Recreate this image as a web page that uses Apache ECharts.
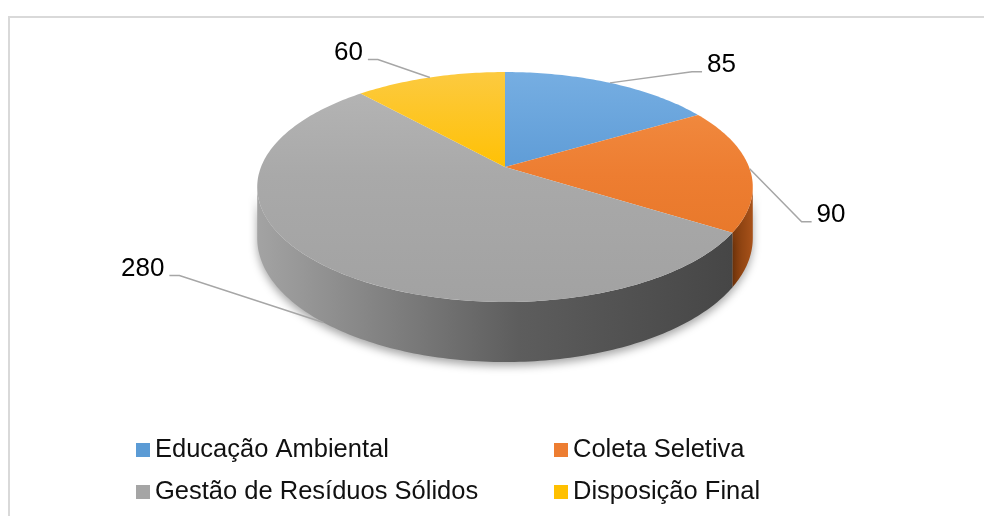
<!DOCTYPE html>
<html><head><meta charset="utf-8">
<script src="https://cdn.jsdelivr.net/npm/echarts@6/dist/echarts.min.js"></script>
<style>html,body{margin:0;padding:0;background:#fff}#c{width:984px;height:516px}</style>
</head><body><div id="c"></div>
<script>
// ---- data ----
const categories = ['Educação Ambiental', 'Coleta Seletiva', 'Gestão de Resíduos Sólidos', 'Disposição Final'];
const values = [85, 90, 280, 60];

// ---- styles / layout ----
const FONT = '"Liberation Sans", Arial, sans-serif';
const colors = ['#5b9bd5', '#ed7d31', '#a5a5a5', '#ffc000'];
const topStops = [
  ['#76aee2', '#5d9bd6', '#4a8bcc'],
  ['#f39046', '#ed7d31', '#e37424'],
  ['#b6b6b6', '#a9a9a9', '#a2a2a2'],
  ['#fcca40', '#ffc000', '#e9b500']
];
const wallStops = [
  ['#3f73a8', '#2f5f90'],
  ['#7e3a0c', '#a8521a'],
  ['#a4a4a4', '#454545'],
  ['#b38700', '#8c6a00']
];
const labelElbow = [[82, -11], [52, 53], [-144, -47], [-52, -18]];
const G = { cx: 505, cy: 167, b: 244, a: 111.5, k: 0.174, h: 49.6 };

function proj(theta, depth) {
  const t = theta * Math.PI / 180;
  const u = Math.sin(t), v = -Math.cos(t);
  const s = 1 / (1 - G.k * v);
  return [G.cx + G.b * u * s, G.cy + G.a * v * s + depth * G.h * s];
}
function arcPts(t1, t2, depth) {
  const pts = [];
  const n = Math.max(2, Math.ceil(Math.abs(t2 - t1)));
  for (let j = 0; j <= n; j++) pts.push(proj(t1 + (t2 - t1) * j / n, depth));
  return pts;
}
const total = values.reduce((p, q) => p + q, 0);
const starts = [], ends = [];
(function () { let acc = 0; values.forEach(v => { starts.push(acc / total * 360); acc += v; ends.push(acc / total * 360); }); })();
const visA = Math.acos(-G.k) * 180 / Math.PI;
const visB = 360 - visA;
const topY0 = G.cy - G.a / (1 + G.k), topY1 = G.cy + G.a / (1 - G.k);
const leftX = proj(visB, 0)[0], rightX = proj(visA, 0)[0];

function makeRender(i) {
  return function (params, api) {
    const val = api.value(0);
    const t1 = starts[i], t2 = ends[i];
    const children = [];
    const w1 = Math.max(t1, visA), w2 = Math.min(t2, visB);
    if (w2 > w1) {
      const pts = arcPts(w1, w2, 0).concat(arcPts(w2, w1, 1));
      const xa = Math.min(proj(w1, 0)[0], proj(w2, 0)[0]);
      const xb = Math.max(proj(w1, 0)[0], proj(w2, 0)[0]);
      children.push({
        type: 'polygon', z2: 1,
        shape: { points: pts },
        style: {
          fill: { type: 'linear', x: i === 2 ? leftX : xa, y: 0, x2: i === 2 ? rightX - 20 : xb, y2: 0, global: true,
            colorStops: i === 2
              ? [{ offset: 0, color: '#a3a3a3' }, { offset: 0.3, color: '#7d7d7d' }, { offset: 0.55, color: '#5d5d5d' }, { offset: 1, color: '#464646' }]
              : [{ offset: 0, color: wallStops[i][0] }, { offset: 1, color: wallStops[i][1] }] },
          shadowBlur: 8, shadowOffsetY: 4, shadowColor: 'rgba(0,0,0,0.35)'
        }
      });
    }
    const topPts = [[G.cx, G.cy]].concat(arcPts(t1, t2, 0));
    children.push({
      type: 'polygon', z2: 2,
      shape: { points: topPts },
      style: {
        fill: { type: 'linear', x: 0, y: topY0, x2: 0, y2: topY1, global: true,
          colorStops: [{ offset: 0, color: topStops[i][0] }, { offset: 0.45, color: topStops[i][1] }, { offset: 1, color: topStops[i][2] }] }
      }
    });
    // data label with leader line
    const m = (t1 + t2) / 2;
    const A = proj(m, (m >= visA && m <= visB) ? 1 : 0);
    const E = [A[0] + labelElbow[i][0], A[1] + labelElbow[i][1]];
    const side = E[0] > G.cx ? 1 : -1;
    const F = [E[0] + side * 10, E[1]];
    children.push({
      type: 'polyline', z2: 3,
      shape: { points: [A, E, F] },
      style: { stroke: '#a6a6a6', lineWidth: 1.5, fill: null }
    });
    children.push({
      type: 'text', z2: 4, x: F[0] + side * 5, y: F[1] - 7,
      style: { text: String(val), fill: '#000', fontSize: 26, fontFamily: FONT,
        align: side > 0 ? 'left' : 'right', verticalAlign: 'middle' }
    });
    return { type: 'group', children };
  };
}

const series = categories.map((name, i) => ({
  type: 'custom', name, coordinateSystem: 'none', silent: true,
  itemStyle: { color: colors[i] },
  data: [[values[i]]],
  renderItem: makeRender(i)
}));

const legendBase = {
  orient: 'vertical', top: 430, itemWidth: 14, itemHeight: 14, itemGap: 12, icon: 'rect',
  selectedMode: false,
  textStyle: { fontSize: 25.5, lineHeight: 30, color: '#111', fontFamily: FONT }
};

const chart = echarts.init(document.getElementById('c'), null, { renderer: 'canvas' });
chart.setOption({
  backgroundColor: '#fff',
  animation: false,
  graphic: [{ type: 'rect', shape: { x: 9, y: 17, width: 1000, height: 530 }, style: { fill: null, stroke: '#d9d9d9', lineWidth: 2 }, silent: true }],
  legend: [
    Object.assign({}, legendBase, { left: 131, data: [categories[0], categories[2]] }),
    Object.assign({}, legendBase, { left: 549, data: [categories[1], categories[3]] })
  ],
  series
});
</script>
</body></html>
